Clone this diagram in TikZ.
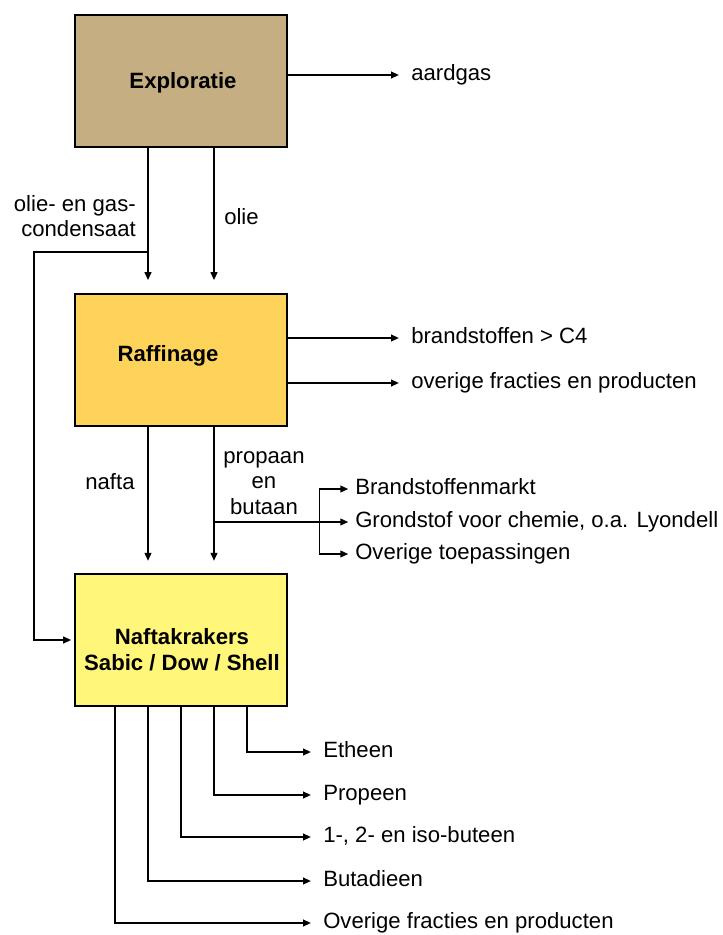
\documentclass[tikz,border=0pt]{standalone}
\usepackage{fontspec}
\setmainfont{Liberation Sans}
\usetikzlibrary{arrows.meta}
\definecolor{explc}{RGB}{196,174,130}
\definecolor{rafc}{RGB}{253,211,90}
\definecolor{krc}{RGB}{255,246,122}
\begin{document}
\begin{tikzpicture}[x=0.75pt,y=-0.75pt,
  box/.style={draw=black,line width=1.7pt,minimum width=159pt,minimum height=99pt,inner sep=0pt},
  btext/.style={font=\fontsize{16.6}{19.5}\selectfont\bfseries,align=center,inner sep=0pt},
  lbl/.style={font=\fontsize{16.6}{19.2}\selectfont,inner sep=0pt,anchor=west,text height=0.95em,text depth=0.1em},
  mlbl/.style={font=\fontsize{16.6}{19.2}\selectfont,inner sep=0pt},
  conn/.style={line width=1.4pt},
  arr/.style={conn,-{Triangle[length=6pt,width=5pt]}},
]
\useasboundingbox (0,0) rectangle (722,935);
% boxes
\node[box,fill=explc] (expl) at (181,81) {};
\node[box,fill=rafc] (raf) at (181,360) {};
\node[box,fill=krc] (kr) at (181,640) {};
\node[btext] (explt) at (183,83) {Exploratie};
\node[btext] (raft) at (168,356) {Raffinage};
\node[btext] (krt) at (182,650) {Naftakrakers\\Sabic / Dow / Shell};
% Exploratie outputs
\node[lbl] (aard) at (411,75) {aardgas};
\draw[arr] (expl.east |- aard.west) -- ([xshift=-9pt]aard.west);
\draw[arr,shorten >=9.5pt] ([xshift=-24.75pt]expl.south) -- ([xshift=-24.75pt]raf.north);
\draw[arr,shorten >=9.5pt] ([xshift=24.75pt]expl.south) -- ([xshift=24.75pt]raf.north);
\node[mlbl,align=right,anchor=east] (condl) at (136,216) {olie- en gas-\\condensaat};
\node[mlbl,anchor=west] (oliel) at (224,217) {olie};
\coordinate (cj) at (148,252);
\draw[arr,shorten >=2pt] (cj) -- (34,252) |- (kr.west);
% Raffinage outputs
\node[lbl] (bs) at (411,338) {brandstoffen > C4};
\node[lbl] (ofp) at (411,383) {overige fracties en producten};
\draw[arr] (raf.east |- bs.west) -- ([xshift=-9pt]bs.west);
\draw[arr] (raf.east |- ofp.west) -- ([xshift=-9pt]ofp.west);
\draw[arr,shorten >=9pt] ([xshift=-24.75pt]raf.south) -- ([xshift=-24.75pt]kr.north);
\draw[arr,shorten >=9pt] ([xshift=24.75pt]raf.south) -- ([xshift=24.75pt]kr.north);
\node[mlbl] (naftal) at (110,482) {nafta};
\node[mlbl,align=center] (pbl) at (264,483) {propaan\\en\\butaan};
% propaan en butaan branch
\coordinate (pj) at (214,522);
\coordinate (bj) at (319.5,522);
\node[lbl] (bm) at (355,489) {Brandstoffenmarkt};
\node[lbl] (gc) at (355,522) {Grondstof voor chemie, o.a. Lyondell};
\node[lbl] (ot) at (355,554) {Overige toepassingen};
\draw[conn] (pj) -- (bj);
\draw[arr] (bj) |- ([xshift=-5pt]bm.west);
\draw[arr] (bj) -- ([xshift=-5pt]gc.west);
\draw[arr] (bj) |- ([xshift=-5pt]ot.west);
% Naftakrakers outputs
\node[lbl] (eth) at (323,752) {Etheen};
\node[lbl] (prop) at (323,795) {Propeen};
\node[lbl] (but) at (323,837) {1-, 2- en iso-buteen};
\node[lbl] (bd) at (323,881) {Butadieen};
\node[lbl] (ofp2) at (323,923) {Overige fracties en producten};
\draw[arr] ([xshift=49.5pt]kr.south) |- ([xshift=-9pt]eth.west);
\draw[arr] ([xshift=24.75pt]kr.south) |- ([xshift=-9pt]prop.west);
\draw[arr] ([xshift=0pt]kr.south) |- ([xshift=-9pt]but.west);
\draw[arr] ([xshift=-24.75pt]kr.south) |- ([xshift=-9pt]bd.west);
\draw[arr] ([xshift=-49.5pt]kr.south) |- ([xshift=-9pt]ofp2.west);
\end{tikzpicture}
\end{document}
